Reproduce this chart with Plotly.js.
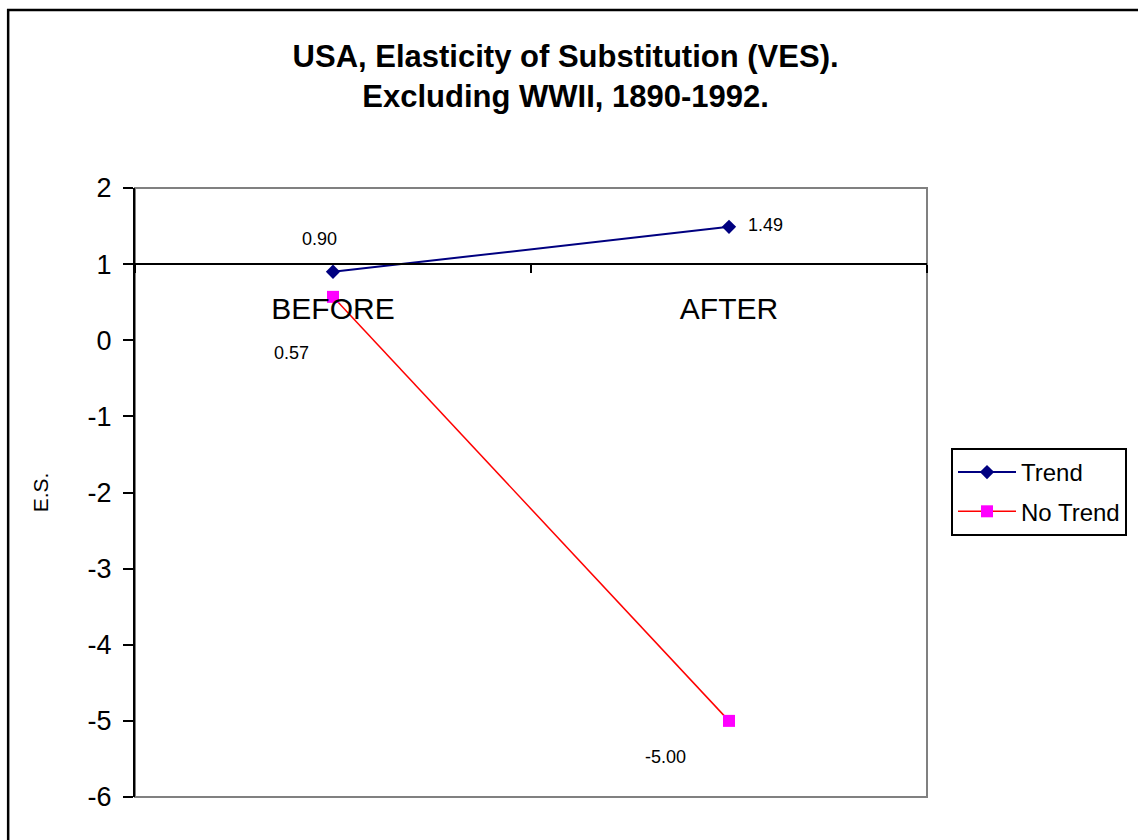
<!DOCTYPE html>
<html>
<head>
<meta charset="utf-8">
<script src="https://cdn.plot.ly/plotly-3.0.1.min.js"></script>
<style>html,body{margin:0;padding:0;background:#fff;}#chart{width:1138px;height:840px;}</style>
</head>
<body>
<div id="chart"></div>
<script>
// ---- data ----
const categories = ["BEFORE", "AFTER"];
const trendValues = [0.90, 1.49];
const noTrendValues = [0.57, -5.00];
const seriesNames = ["Trend", "No Trend"];
const yTicks = [-6, -5, -4, -3, -2, -1, 0, 1, 2];
const yRange = [-6, 2];
const crossValue = 1;

// ---- label offsets (style) ----
const trendLabelShift = [[-14, 33], [36, 2]];
const noTrendLabelShift = [[-42, -56], [-64, -36]];

const fontFam = "Liberation Sans, Arial, sans-serif";

const traces = [
  {
    x: categories, y: trendValues, name: seriesNames[0], type: "scatter", mode: "lines+markers",
    legendgroup: "g1",
    line: {color: "#000080", width: 2},
    marker: {symbol: "diamond", size: 11, color: "#000080"}
  },
  {
    x: categories, y: noTrendValues, name: seriesNames[1], type: "scatter", mode: "lines+markers",
    legendgroup: "g2",
    line: {color: "#FF0000", width: 1.5},
    marker: {symbol: "square", size: 12, color: "#FF00FF"}
  }
];

const annotations = [];
function addLabels(vals, shifts) {
  vals.forEach((v, i) => {
    annotations.push({
      x: categories[i], y: v, xref: "x", yref: "y",
      text: v.toFixed(2), showarrow: false,
      xshift: shifts[i][0], yshift: shifts[i][1],
      font: {family: fontFam, size: 18, color: "#000"}
    });
  });
}
addLabels(trendValues, trendLabelShift);
addLabels(noTrendValues, noTrendLabelShift);

const L = 135, R = 210, T = 188, B = 43, W = 1138, H = 840;
const pw = W - L - R, ph = H - T - B;
const px2x = p => (p - L) / pw;
const py2y = p => (H - B - p) / ph;

const layout = {
  width: W, height: H,
  margin: {l: L, r: R, t: T, b: B, pad: 0},
  paper_bgcolor: "#fff", plot_bgcolor: "#fff",
  showlegend: true,
  title: {
    text: "<b>USA, Elasticity of Substitution (VES).</b><br><b>Excluding WWII, 1890-1992.</b>",
    x: 0.497, xanchor: "center",
    y: 1 - 67 / H, yanchor: "top", yref: "container",
    font: {family: fontFam, size: 31, color: "#000"}
  },
  xaxis: {
    type: "category",
    range: [-0.5, categories.length - 0.5],
    anchor: "free",
    position: (crossValue - yRange[0]) / (yRange[1] - yRange[0]),
    showline: true, linecolor: "#000", linewidth: 2,
    ticks: "outside", ticklen: 8, tickwidth: 2, tickcolor: "#000",
    tickson: "boundaries",
    ticklabelstandoff: 18,
    showgrid: false, zeroline: false,
    tickfont: {family: fontFam, size: 30, color: "#000"}
  },
  yaxis: {
    range: yRange,
    tickvals: yTicks,
    ticktext: yTicks.map(String),
    showline: true, linecolor: "#000", linewidth: 2,
    ticks: "outside", ticklen: 10, tickwidth: 2, tickcolor: "#000",
    ticklabelstandoff: 6,
    showgrid: false, zeroline: false,
    tickfont: {family: fontFam, size: 27, color: "#000"},
    title: {text: "E.S.", standoff: 33, font: {family: fontFam, size: 21, color: "#000"}}
  },
  legend: {
    x: px2x(951), xanchor: "left",
    y: py2y(492), yanchor: "middle",
    bgcolor: "#fff", bordercolor: "#000", borderwidth: 2,
    font: {family: fontFam, size: 24, color: "#000"},
    traceorder: "grouped",
    tracegroupgap: 5,
    itemwidth: 58
  },
  shapes: [
    {type: "rect", xref: "paper", yref: "paper", x0: 0, x1: 1, y0: 0, y1: 1,
     line: {color: "#808080", width: 2}, layer: "below"},
    {type: "rect", xref: "paper", yref: "paper",
     x0: px2x(8), x1: px2x(1150), y0: py2y(860), y1: py2y(10),
     line: {color: "#000", width: 2.5}, layer: "below"}
  ],
  annotations: annotations
};

Plotly.newPlot("chart", traces, layout, {displayModeBar: false, staticPlot: true});
</script>
</body>
</html>
